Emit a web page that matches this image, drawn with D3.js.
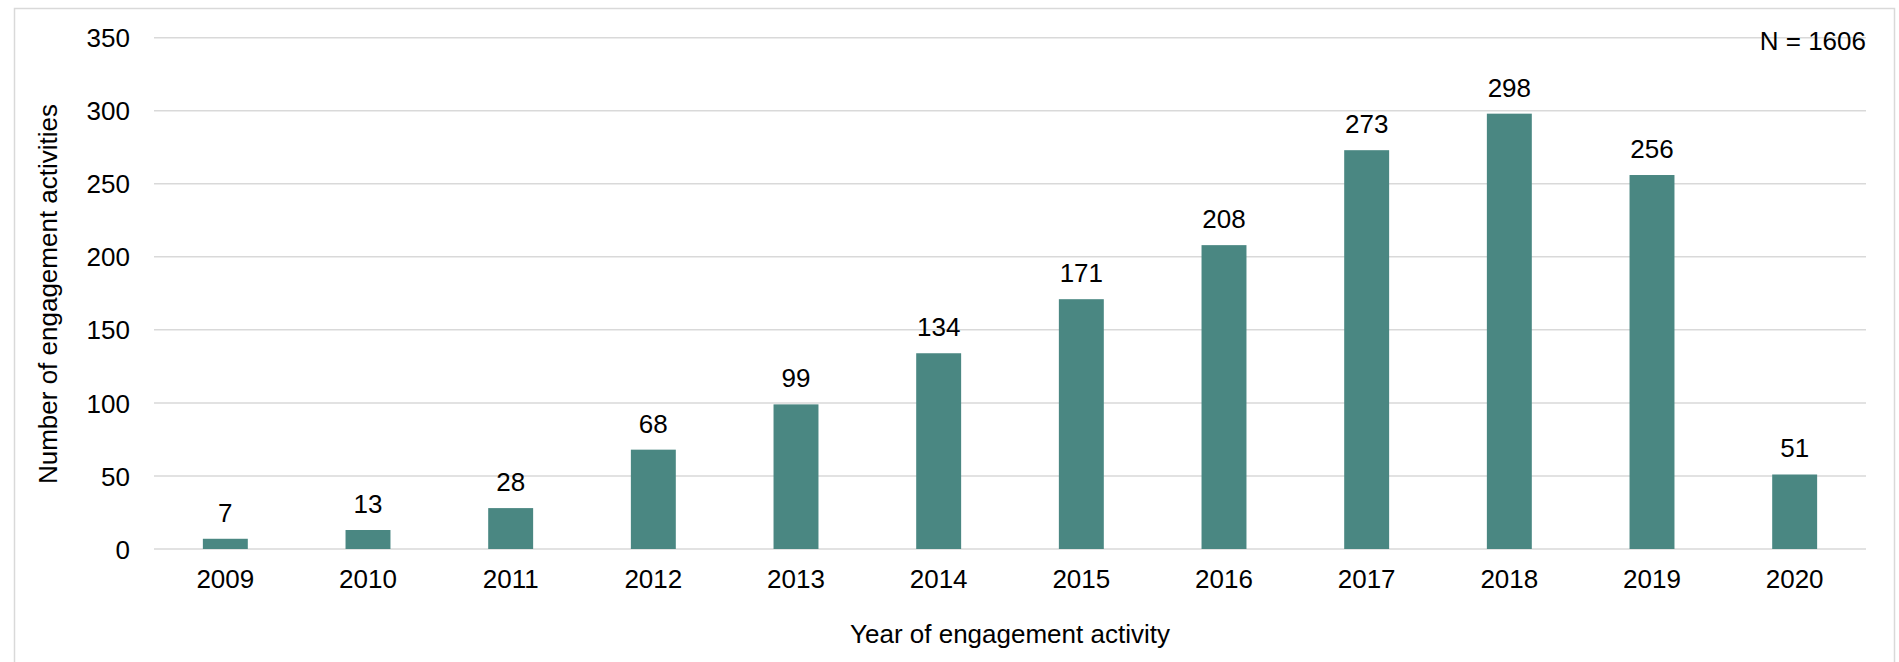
<!DOCTYPE html>
<html>
<head>
<meta charset="utf-8">
<script src="https://cdn.jsdelivr.net/npm/d3@7"></script>
<style>
  html, body { margin: 0; padding: 0; background: #fff; }
  svg { display: block; }
  text { font-family: "Liberation Sans", Arial, sans-serif; fill: #000; }
</style>
</head>
<body>
<svg id="chart" width="1899" height="662"></svg>
<script>
const years = ["2009","2010","2011","2012","2013","2014","2015","2016","2017","2018","2019","2020"];
const counts = [7, 13, 28, 68, 99, 134, 171, 208, 273, 298, 256, 51];
const yTicks = [0, 50, 100, 150, 200, 250, 300, 350];
const yTitle = "Number of engagement activities";
const xTitle = "Year of engagement activity";
const note = "N = 1606";

const W = 1899, H = 662;
const margin = { left: 154, right: 1866, top: 37.7, bottom: 549 };
const svg = d3.select("#chart");

// outer frame
svg.append("rect")
  .attr("x", 14.5).attr("y", 8.5)
  .attr("width", 1880).attr("height", 700)
  .attr("fill", "none").attr("stroke", "#d9d9d9").attr("stroke-width", 1.5);

const x = d3.scaleBand().domain(years).range([margin.left, margin.right]).paddingInner(0.685).paddingOuter(0.3425);
const y = d3.scaleLinear().domain([0, 350]).range([margin.bottom, margin.top]);

// gridlines
svg.append("g").selectAll("line").data(yTicks).join("line")
  .attr("x1", margin.left).attr("x2", margin.right)
  .attr("y1", d => y(d)).attr("y2", d => y(d))
  .attr("stroke", "#d9d9d9").attr("stroke-width", 1.5);

// y axis labels
const yAxis = d3.axisLeft(y).tickValues(yTicks).tickSize(0).tickPadding(0);
const gy = svg.append("g").attr("transform", "translate(130,0)").call(yAxis);
gy.select(".domain").remove();
gy.selectAll("text").attr("font-size", 26).attr("font-family", "Liberation Sans, Arial, sans-serif").attr("fill", "#000").attr("dy", "0.35em");

// bars
svg.append("g").selectAll("rect").data(years).join("rect")
  .attr("x", d => x(d)).attr("width", x.bandwidth())
  .attr("y", (d, i) => y(counts[i]))
  .attr("height", (d, i) => y(0) - y(counts[i]))
  .attr("fill", "#4a8782");

// value labels
svg.append("g").selectAll("text").data(years).join("text")
  .attr("x", d => x(d) + x.bandwidth() / 2)
  .attr("y", (d, i) => y(counts[i]) - 17)
  .attr("text-anchor", "middle").attr("font-size", 26)
  .text((d, i) => counts[i]);

// x axis labels
const xAxis = d3.axisBottom(x).tickSize(0).tickPadding(0);
const gx = svg.append("g").attr("transform", `translate(0,${margin.bottom})`).call(xAxis);
gx.select(".domain").remove();
gx.selectAll("text").attr("font-size", 26).attr("font-family", "Liberation Sans, Arial, sans-serif").attr("fill", "#000").attr("dy", null).attr("y", 39);

// axis titles
svg.append("text")
  .attr("x", (margin.left + margin.right) / 2).attr("y", 643)
  .attr("text-anchor", "middle").attr("font-size", 26)
  .text(xTitle);
svg.append("text")
  .attr("transform", "translate(57,294) rotate(-90)")
  .attr("text-anchor", "middle").attr("font-size", 26)
  .text(yTitle);

// N note
svg.append("text")
  .attr("x", margin.right).attr("y", 50)
  .attr("text-anchor", "end").attr("font-size", 26)
  .text(note);
</script>
</body>
</html>
